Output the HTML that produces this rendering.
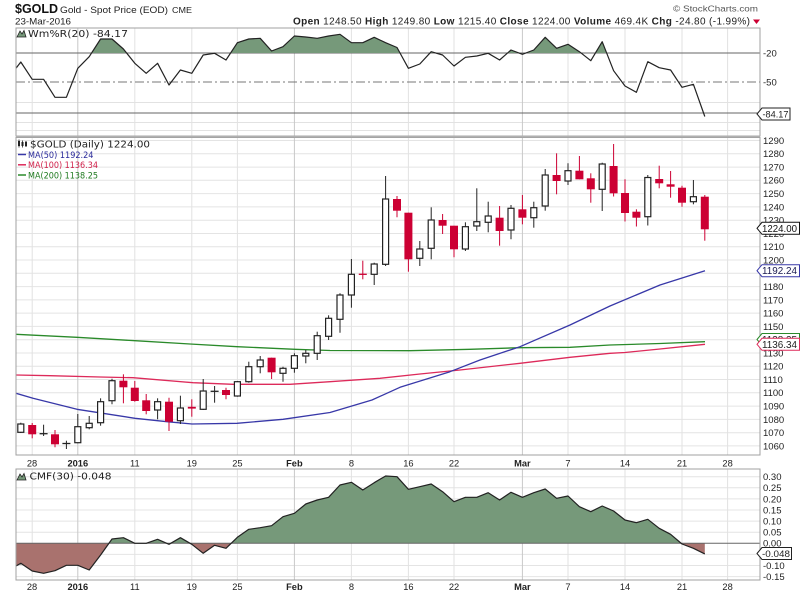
<!DOCTYPE html>
<html><head><meta charset="utf-8"><style>
html,body{margin:0;padding:0;background:#fff;width:800px;height:596px;overflow:hidden}
svg{display:block}
text{font-family:"Liberation Sans",Arial,sans-serif;fill:#222}
.ax{font-size:9.5px}
.lg{font-family:"DejaVu Sans","Liberation Sans",sans-serif}
</style></head><body>
<svg width="800" height="596" viewBox="0 0 800 596" xmlns="http://www.w3.org/2000/svg">
<defs>
<clipPath id="cTop"><rect x="16" y="28" width="744" height="108"/></clipPath>
<clipPath id="cAbove20"><rect x="16" y="28" width="744" height="25"/></clipPath>
<clipPath id="cMain"><rect x="16" y="137" width="744" height="318"/></clipPath>
<clipPath id="cPos"><rect x="16" y="469" width="744" height="74.3"/></clipPath>
<clipPath id="cNeg"><rect x="16" y="543.3" width="744" height="37"/></clipPath>
</defs>

<!-- HEADER -->
<text x="15" y="12.8" font-size="12.5" font-weight="bold" style="fill:#111">$GOLD</text>
<text x="60" y="12.8" font-size="9.6" textLength="108" lengthAdjust="spacingAndGlyphs">Gold - Spot Price (EOD)</text>
<text x="172" y="12.8" font-size="8" textLength="20" lengthAdjust="spacingAndGlyphs">CME</text>
<text x="15" y="24.5" font-size="9.5" textLength="56" lengthAdjust="spacingAndGlyphs">23-Mar-2016</text>
<text x="673" y="11.5" font-size="8.5" textLength="85" lengthAdjust="spacingAndGlyphs" style="fill:#555">© StockCharts.com</text>
<text x="293" y="24.5" font-size="10" textLength="457" lengthAdjust="spacing"><tspan font-weight="bold">Open</tspan> 1248.50 <tspan font-weight="bold">High</tspan> 1249.80 <tspan font-weight="bold">Low</tspan> 1215.40 <tspan font-weight="bold">Close</tspan> 1224.00 <tspan font-weight="bold">Volume</tspan> 469.4K <tspan font-weight="bold">Chg</tspan> -24.80 (-1.99%)</text>
<polygon points="753,19.5 760,19.5 756.5,24" fill="#cc0033"/>

<!-- ================= TOP PANEL (Wm%R) ================= -->
<g stroke="#e2e2e2" stroke-width="1">
<line x1="16" y1="102.5" x2="760" y2="102.5"/>
<line x1="16" y1="122.5" x2="760" y2="122.5"/>
<line x1="16" y1="130.5" x2="760" y2="130.5"/>
</g>
<g stroke="#e2e2e2" stroke-width="1">
<line x1="32.2" y1="28" x2="32.2" y2="136"/>
<line x1="134.8" y1="28" x2="134.8" y2="136"/>
<line x1="191.8" y1="28" x2="191.8" y2="136"/>
<line x1="237.4" y1="28" x2="237.4" y2="136"/>
<line x1="351.4" y1="28" x2="351.4" y2="136"/>
<line x1="408.4" y1="28" x2="408.4" y2="136"/>
<line x1="454" y1="28" x2="454" y2="136"/>
<line x1="568" y1="28" x2="568" y2="136"/>
<line x1="625" y1="28" x2="625" y2="136"/>
<line x1="682" y1="28" x2="682" y2="136"/>
<line x1="727.6" y1="28" x2="727.6" y2="136"/>
</g>
<g stroke="#c8c8c8" stroke-width="1">
<line x1="77.8" y1="28" x2="77.8" y2="136"/>
<line x1="294.4" y1="28" x2="294.4" y2="136"/>
<line x1="522.4" y1="28" x2="522.4" y2="136"/>
</g>
<line x1="16" y1="53" x2="760" y2="53" stroke="#666" stroke-width="1"/>
<line x1="16" y1="82" x2="760" y2="82" stroke="#777" stroke-width="1" stroke-dasharray="9,3,2,3"/>
<line x1="16" y1="113" x2="760" y2="113" stroke="#666" stroke-width="1"/>
<polygon clip-path="url(#cAbove20)" fill="#76997a" points="16,53 16,68.3 20.8,62 32.2,79.3 43.6,79.3 55,97.3 66.4,97.3 77.8,68.3 89.2,56.7 100.6,39 112,39 123.4,49 134.8,63.3 146.2,73.3 157.6,63.3 169,85 180.4,70 191.8,73.3 203.2,55 214.6,53.3 226,60 237.4,42.7 248.8,39 260.2,38.3 271.6,51 283,46.7 294.4,36 305.8,37 317.2,38.3 328.6,36 340,34.3 351.4,42.7 362.8,42.7 374.2,37.3 385.6,42.7 397,47.5 408.4,68.3 419.8,64 431.2,51.7 442.6,55 454,66 465.4,57.3 476.8,56 488.2,53.3 499.6,60 511,50 522.4,54.3 533.8,50 545.2,37.3 556.6,48.3 568,44.3 579.4,51.7 590.8,60.7 602.2,41.7 613.6,70.7 625,86 636.4,92.3 647.8,61.7 659.2,67.7 670.6,70 682,87.3 693.4,84.3 704.8,116.5 704.8,53"/>
<polyline clip-path="url(#cTop)" fill="none" stroke="#222" stroke-width="1.2" stroke-linejoin="round" points="16,68.3 20.8,62 32.2,79.3 43.6,79.3 55,97.3 66.4,97.3 77.8,68.3 89.2,56.7 100.6,39 112,39 123.4,49 134.8,63.3 146.2,73.3 157.6,63.3 169,85 180.4,70 191.8,73.3 203.2,55 214.6,53.3 226,60 237.4,42.7 248.8,39 260.2,38.3 271.6,51 283,46.7 294.4,36 305.8,37 317.2,38.3 328.6,36 340,34.3 351.4,42.7 362.8,42.7 374.2,37.3 385.6,42.7 397,47.5 408.4,68.3 419.8,64 431.2,51.7 442.6,55 454,66 465.4,57.3 476.8,56 488.2,53.3 499.6,60 511,50 522.4,54.3 533.8,50 545.2,37.3 556.6,48.3 568,44.3 579.4,51.7 590.8,60.7 602.2,41.7 613.6,70.7 625,86 636.4,92.3 647.8,61.7 659.2,67.7 670.6,70 682,87.3 693.4,84.3 704.8,116.5"/>
<rect x="16" y="28" width="744" height="108" fill="none" stroke="#a0a0a0" stroke-width="1"/>
<!-- legend -->
<polygon points="17,37 20,31 22,34 24,30.5 26,37" fill="#76997a" stroke="#222" stroke-width="0.8"/>
<text class="lg" x="28" y="37" font-size="10" textLength="100" lengthAdjust="spacingAndGlyphs">Wm%R(20) -84.17</text>
<!-- right axis -->
<text class="ax" x="763" y="56.3">-20</text>
<text class="ax" x="763" y="85.3">-50</text>
<text class="ax" x="763" y="116.3">-80</text>
<path d="M757,114 L762,108 L790,108 L790,120 L762,120 Z" fill="#fff" stroke="#222" stroke-width="1"/>
<text x="762.5" y="117.5" font-size="9.5" textLength="26" lengthAdjust="spacingAndGlyphs">-84.17</text>

<!-- ================= MAIN PANEL ================= -->
<g stroke="#e4e4e4" stroke-width="1">
<line x1="16" y1="140.5" x2="760" y2="140.5"/>
<line x1="16" y1="153.8" x2="760" y2="153.8"/>
<line x1="16" y1="167.1" x2="760" y2="167.1"/>
<line x1="16" y1="180.3" x2="760" y2="180.3"/>
<line x1="16" y1="193.6" x2="760" y2="193.6"/>
<line x1="16" y1="206.9" x2="760" y2="206.9"/>
<line x1="16" y1="220.2" x2="760" y2="220.2"/>
<line x1="16" y1="233.5" x2="760" y2="233.5"/>
<line x1="16" y1="246.7" x2="760" y2="246.7"/>
<line x1="16" y1="260" x2="760" y2="260"/>
<line x1="16" y1="273.3" x2="760" y2="273.3"/>
<line x1="16" y1="286.6" x2="760" y2="286.6"/>
<line x1="16" y1="299.9" x2="760" y2="299.9"/>
<line x1="16" y1="313.1" x2="760" y2="313.1"/>
<line x1="16" y1="326.4" x2="760" y2="326.4"/>
<line x1="16" y1="339.7" x2="760" y2="339.7"/>
<line x1="16" y1="353" x2="760" y2="353"/>
<line x1="16" y1="366.3" x2="760" y2="366.3"/>
<line x1="16" y1="379.5" x2="760" y2="379.5"/>
<line x1="16" y1="392.8" x2="760" y2="392.8"/>
<line x1="16" y1="406.1" x2="760" y2="406.1"/>
<line x1="16" y1="419.4" x2="760" y2="419.4"/>
<line x1="16" y1="432.7" x2="760" y2="432.7"/>
<line x1="16" y1="445.9" x2="760" y2="445.9"/>
</g>
<g stroke="#e2e2e2" stroke-width="1">
<line x1="32.2" y1="137" x2="32.2" y2="455"/>
<line x1="134.8" y1="137" x2="134.8" y2="455"/>
<line x1="191.8" y1="137" x2="191.8" y2="455"/>
<line x1="237.4" y1="137" x2="237.4" y2="455"/>
<line x1="351.4" y1="137" x2="351.4" y2="455"/>
<line x1="408.4" y1="137" x2="408.4" y2="455"/>
<line x1="454" y1="137" x2="454" y2="455"/>
<line x1="568" y1="137" x2="568" y2="455"/>
<line x1="625" y1="137" x2="625" y2="455"/>
<line x1="682" y1="137" x2="682" y2="455"/>
<line x1="727.6" y1="137" x2="727.6" y2="455"/>
</g>
<g stroke="#c8c8c8" stroke-width="1">
<line x1="77.8" y1="137" x2="77.8" y2="455"/>
<line x1="294.4" y1="137" x2="294.4" y2="455"/>
<line x1="522.4" y1="137" x2="522.4" y2="455"/>
</g>

<!-- moving averages -->
<g clip-path="url(#cMain)" fill="none" stroke-width="1.3" stroke-linejoin="round">
<polyline stroke="#2a8a2a" points="16,334.3 77,337.3 135,340.7 190,344 237,346.7 295,349.3 330,350.5 410,350.7 470,349.3 520,347.7 570,347.3 610,345 660,343.5 705,341.7"/>
<polyline stroke="#dd2a5a" points="16,375 50,375.7 100,377 133,377.7 193,382.7 233,384.3 290,384.3 330,381.7 380,378.3 420,374 460,370 520,363.3 570,357.3 610,353.3 625,352.5 660,349 705,344.3"/>
<polyline stroke="#3838a8" points="16,393.3 33,398.3 77,409.3 135,418.3 167,421.7 192,424 237,423.3 283,419.3 330,412.5 372,400 400,387.3 450,371.7 480,360 520,346.7 570,325 610,306 660,285 705,270.7"/>
</g>

<!-- candles -->
<g stroke-width="1">
<!-- 0 -->
<line x1="20.8" y1="422.7" x2="20.8" y2="433" stroke="#222"/><rect x="17.8" y="424" width="6" height="8.3" fill="#fff" stroke="#222" stroke-width="1.2"/>
<!-- 1 -->
<line x1="32.2" y1="423" x2="32.2" y2="438.3" stroke="#cc0033"/><rect x="28.2" y="425" width="8" height="9.3" fill="#cc0033"/>
<!-- 2 -->
<line x1="43.6" y1="424.7" x2="43.6" y2="436" stroke="#222"/><line x1="39.6" y1="433.7" x2="47.6" y2="433.7" stroke="#222" stroke-width="1.3"/>
<!-- 3 -->
<line x1="55" y1="430" x2="55" y2="447.3" stroke="#cc0033"/><rect x="51" y="434.3" width="8" height="10" fill="#cc0033"/>
<!-- 4 -->
<line x1="66.4" y1="440.7" x2="66.4" y2="449" stroke="#222"/><line x1="62.4" y1="443.5" x2="70.4" y2="443.5" stroke="#222" stroke-width="1.3"/>
<!-- 5 -->
<line x1="77.8" y1="414" x2="77.8" y2="443.3" stroke="#222"/><rect x="74.8" y="426.7" width="6" height="16" fill="#fff" stroke="#222" stroke-width="1.2"/>
<!-- 6 -->
<line x1="89.2" y1="416" x2="89.2" y2="429.3" stroke="#222"/><rect x="86.2" y="423.3" width="6" height="4.4" fill="#fff" stroke="#222" stroke-width="1.2"/>
<!-- 7 -->
<line x1="100.6" y1="398.3" x2="100.6" y2="425.7" stroke="#222"/><rect x="97.6" y="401.7" width="6" height="21" fill="#fff" stroke="#222" stroke-width="1.2"/>
<!-- 8 -->
<line x1="112" y1="378.7" x2="112" y2="404.3" stroke="#222"/><rect x="109" y="380.7" width="6" height="20" fill="#fff" stroke="#222" stroke-width="1.2"/>
<!-- 9 -->
<line x1="123.4" y1="374.3" x2="123.4" y2="403.3" stroke="#cc0033"/><rect x="119.4" y="380.7" width="8" height="6.6" fill="#cc0033"/>
<!-- 10 -->
<line x1="134.8" y1="381" x2="134.8" y2="401.7" stroke="#cc0033"/><rect x="130.8" y="387.7" width="8" height="13.3" fill="#cc0033"/>
<!-- 11 -->
<line x1="146.2" y1="394" x2="146.2" y2="414.3" stroke="#cc0033"/><rect x="142.2" y="400.3" width="8" height="10.7" fill="#cc0033"/>
<!-- 12 -->
<line x1="157.6" y1="398.3" x2="157.6" y2="419.3" stroke="#222"/><rect x="154.6" y="401.7" width="6" height="8.3" fill="#fff" stroke="#222" stroke-width="1.2"/>
<!-- 13 -->
<line x1="169" y1="397.7" x2="169" y2="431" stroke="#cc0033"/><rect x="165" y="401.7" width="8" height="20" fill="#cc0033"/>
<!-- 14 -->
<line x1="180.4" y1="395.7" x2="180.4" y2="424" stroke="#222"/><rect x="177.4" y="408" width="6" height="12.7" fill="#fff" stroke="#222" stroke-width="1.2"/>
<!-- 15 -->
<line x1="191.8" y1="399.3" x2="191.8" y2="416.7" stroke="#cc0033"/><rect x="187.8" y="406.8" width="8" height="1.8" fill="#cc0033"/>
<!-- 16 -->
<line x1="203.2" y1="379" x2="203.2" y2="410" stroke="#222"/><rect x="200.2" y="391" width="6" height="18.3" fill="#fff" stroke="#222" stroke-width="1.2"/>
<!-- 17 -->
<line x1="214.6" y1="386" x2="214.6" y2="402.7" stroke="#222"/><line x1="210.6" y1="391.3" x2="218.6" y2="391.3" stroke="#222" stroke-width="1.3"/>
<!-- 18 -->
<line x1="226" y1="387.7" x2="226" y2="399.3" stroke="#cc0033"/><rect x="222" y="390" width="8" height="5" fill="#cc0033"/>
<!-- 19 -->
<line x1="237.4" y1="381" x2="237.4" y2="396.7" stroke="#222"/><rect x="234.4" y="381.7" width="6" height="14.3" fill="#fff" stroke="#222" stroke-width="1.2"/>
<!-- 20 -->
<line x1="248.8" y1="361.7" x2="248.8" y2="382.7" stroke="#222"/><rect x="245.8" y="366.7" width="6" height="15" fill="#fff" stroke="#222" stroke-width="1.2"/>
<!-- 21 -->
<line x1="260.2" y1="356" x2="260.2" y2="373.3" stroke="#222"/><rect x="257.2" y="360" width="6" height="6.7" fill="#fff" stroke="#222" stroke-width="1.2"/>
<!-- 22 -->
<line x1="271.6" y1="357.7" x2="271.6" y2="379" stroke="#cc0033"/><rect x="267.6" y="357.7" width="8" height="14.6" fill="#cc0033"/>
<!-- 23 -->
<line x1="283" y1="366.7" x2="283" y2="381.7" stroke="#222"/><rect x="280" y="368.3" width="6" height="5" fill="#fff" stroke="#222" stroke-width="1.2"/>
<!-- 24 -->
<line x1="294.4" y1="353.3" x2="294.4" y2="372.7" stroke="#222"/><rect x="291.4" y="355.7" width="6" height="12.6" fill="#fff" stroke="#222" stroke-width="1.2"/>
<!-- 25 -->
<line x1="305.8" y1="350" x2="305.8" y2="363.3" stroke="#222"/><rect x="302.8" y="353.3" width="6" height="2.7" fill="#fff" stroke="#222" stroke-width="1.2"/>
<!-- 26 -->
<line x1="317.2" y1="331.7" x2="317.2" y2="360" stroke="#222"/><rect x="314.2" y="335.7" width="6" height="17.6" fill="#fff" stroke="#222" stroke-width="1.2"/>
<!-- 27 -->
<line x1="328.6" y1="315.3" x2="328.6" y2="340" stroke="#222"/><rect x="325.6" y="318.3" width="6" height="18" fill="#fff" stroke="#222" stroke-width="1.2"/>
<!-- 28 -->
<line x1="340" y1="293.3" x2="340" y2="332.7" stroke="#222"/><rect x="337" y="295" width="6" height="24.3" fill="#fff" stroke="#222" stroke-width="1.2"/>
<!-- 29 -->
<line x1="351.4" y1="259" x2="351.4" y2="307.7" stroke="#222"/><rect x="348.4" y="274.3" width="6" height="20.7" fill="#fff" stroke="#222" stroke-width="1.2"/>
<!-- 30 -->
<line x1="362.8" y1="260.7" x2="362.8" y2="279.3" stroke="#cc0033"/><line x1="358.8" y1="274.3" x2="366.8" y2="274.3" stroke="#cc0033" stroke-width="1.3"/>
<!-- 31 -->
<line x1="374.2" y1="262.7" x2="374.2" y2="285" stroke="#222"/><rect x="371.2" y="264" width="6" height="10.3" fill="#fff" stroke="#222" stroke-width="1.2"/>
<!-- 32 -->
<line x1="385.6" y1="176" x2="385.6" y2="266" stroke="#222"/><rect x="382.6" y="199" width="6" height="65.3" fill="#fff" stroke="#222" stroke-width="1.2"/>
<!-- 33 -->
<line x1="397" y1="196" x2="397" y2="217.3" stroke="#cc0033"/><rect x="393" y="199" width="8" height="11.7" fill="#cc0033"/>
<!-- 34 -->
<line x1="408.4" y1="212.7" x2="408.4" y2="271.7" stroke="#cc0033"/><rect x="404.4" y="212.7" width="8" height="46.6" fill="#cc0033"/>
<!-- 35 -->
<line x1="419.8" y1="241" x2="419.8" y2="266" stroke="#222"/><rect x="416.8" y="249" width="6" height="9.3" fill="#fff" stroke="#222" stroke-width="1.2"/>
<!-- 36 -->
<line x1="431.2" y1="207.3" x2="431.2" y2="259.3" stroke="#222"/><rect x="428.2" y="220" width="6" height="28.3" fill="#fff" stroke="#222" stroke-width="1.2"/>
<!-- 37 -->
<line x1="442.6" y1="214" x2="442.6" y2="234" stroke="#cc0033"/><rect x="438.6" y="220" width="8" height="5.7" fill="#cc0033"/>
<!-- 38 -->
<line x1="454" y1="225.7" x2="454" y2="257.3" stroke="#cc0033"/><rect x="450" y="225.7" width="8" height="23.6" fill="#cc0033"/>
<!-- 39 -->
<line x1="465.4" y1="222.3" x2="465.4" y2="251" stroke="#222"/><rect x="462.4" y="226.7" width="6" height="22.3" fill="#fff" stroke="#222" stroke-width="1.2"/>
<!-- 40 -->
<line x1="476.8" y1="188.3" x2="476.8" y2="231" stroke="#222"/><rect x="473.8" y="221.7" width="6" height="4.3" fill="#fff" stroke="#222" stroke-width="1.2"/>
<!-- 41 -->
<line x1="488.2" y1="201.7" x2="488.2" y2="232.3" stroke="#222"/><rect x="485.2" y="216" width="6" height="6.3" fill="#fff" stroke="#222" stroke-width="1.2"/>
<!-- 42 -->
<line x1="499.6" y1="206" x2="499.6" y2="245.7" stroke="#cc0033"/><rect x="495.6" y="217.7" width="8" height="13.3" fill="#cc0033"/>
<!-- 43 -->
<line x1="511" y1="205" x2="511" y2="239.3" stroke="#222"/><rect x="508" y="208.3" width="6" height="21.7" fill="#fff" stroke="#222" stroke-width="1.2"/>
<!-- 44 -->
<line x1="522.4" y1="195" x2="522.4" y2="224.3" stroke="#cc0033"/><rect x="518.4" y="209.3" width="8" height="8.4" fill="#cc0033"/>
<!-- 45 -->
<line x1="533.8" y1="201.7" x2="533.8" y2="227.7" stroke="#222"/><rect x="530.8" y="207.7" width="6" height="10" fill="#fff" stroke="#222" stroke-width="1.2"/>
<!-- 46 -->
<line x1="545.2" y1="169" x2="545.2" y2="210.7" stroke="#222"/><rect x="542.2" y="175" width="6" height="31" fill="#fff" stroke="#222" stroke-width="1.2"/>
<!-- 47 -->
<line x1="556.6" y1="153.3" x2="556.6" y2="194.3" stroke="#cc0033"/><rect x="552.6" y="175" width="8" height="6" fill="#cc0033"/>
<!-- 48 -->
<line x1="568" y1="163.3" x2="568" y2="185" stroke="#222"/><rect x="565" y="170.7" width="6" height="10.3" fill="#fff" stroke="#222" stroke-width="1.2"/>
<!-- 49 -->
<line x1="579.4" y1="156" x2="579.4" y2="179.3" stroke="#cc0033"/><rect x="575.4" y="170.7" width="8" height="8.6" fill="#cc0033"/>
<!-- 50 -->
<line x1="590.8" y1="173.3" x2="590.8" y2="202.7" stroke="#cc0033"/><rect x="586.8" y="178.3" width="8" height="11" fill="#cc0033"/>
<!-- 51 -->
<line x1="602.2" y1="162.7" x2="602.2" y2="211" stroke="#222"/><rect x="599.2" y="164" width="6" height="25.3" fill="#fff" stroke="#222" stroke-width="1.2"/>
<!-- 52 -->
<line x1="613.6" y1="144" x2="613.6" y2="196.5" stroke="#cc0033"/><rect x="609.6" y="166" width="8" height="27.3" fill="#cc0033"/>
<!-- 53 -->
<line x1="625" y1="179.3" x2="625" y2="221.5" stroke="#cc0033"/><rect x="621" y="193" width="8" height="20" fill="#cc0033"/>
<!-- 54 -->
<line x1="636.4" y1="209.3" x2="636.4" y2="226.5" stroke="#cc0033"/><rect x="632.4" y="211.7" width="8" height="6" fill="#cc0033"/>
<!-- 55 -->
<line x1="647.8" y1="175" x2="647.8" y2="225.5" stroke="#222"/><rect x="644.8" y="177.5" width="6" height="39.2" fill="#fff" stroke="#222" stroke-width="1.2"/>
<!-- 56 -->
<line x1="659.2" y1="165.7" x2="659.2" y2="188.3" stroke="#cc0033"/><rect x="655.2" y="179" width="8" height="4.3" fill="#cc0033"/>
<!-- 57 -->
<line x1="670.6" y1="171" x2="670.6" y2="197.7" stroke="#cc0033"/><rect x="666.6" y="184.3" width="8" height="2.4" fill="#cc0033"/>
<!-- 58 -->
<line x1="682" y1="185.7" x2="682" y2="206.7" stroke="#cc0033"/><rect x="678" y="187.7" width="8" height="15" fill="#cc0033"/>
<!-- 59 -->
<line x1="693.4" y1="180" x2="693.4" y2="204.3" stroke="#222"/><rect x="690.4" y="196.7" width="6" height="5" fill="#fff" stroke="#222" stroke-width="1.2"/>
<!-- 60 -->
<line x1="704.8" y1="195" x2="704.8" y2="240.7" stroke="#cc0033"/><rect x="700.8" y="196.7" width="8" height="32.6" fill="#cc0033"/>
</g>

<rect x="16" y="137.5" width="744" height="317.5" fill="none" stroke="#a0a0a0" stroke-width="1"/>
<line x1="16" y1="136.5" x2="760" y2="136.5" stroke="#b0b0b0" stroke-width="1.5"/>

<!-- main legend -->
<g>
<rect x="18" y="141" width="2" height="5" fill="#222"/><line x1="19" y1="139.5" x2="19" y2="147.5" stroke="#222" stroke-width="0.8"/>
<rect x="21.5" y="142" width="2" height="4" fill="#222"/><line x1="22.5" y1="140.5" x2="22.5" y2="147.5" stroke="#222" stroke-width="0.8"/>
<rect x="25" y="141.5" width="2" height="5" fill="#222"/>
</g>
<text class="lg" x="30" y="147.5" font-size="10" textLength="120" lengthAdjust="spacingAndGlyphs">$GOLD (Daily) 1224.00</text>
<line x1="18" y1="154.5" x2="26" y2="154.5" stroke="#3838a8" stroke-width="1.5"/>
<text class="lg" x="28" y="157.8" font-size="8.6" textLength="65.5" lengthAdjust="spacingAndGlyphs" style="fill:#2a2a9a">MA(50) 1192.24</text>
<line x1="18" y1="164.8" x2="26" y2="164.8" stroke="#dd2a5a" stroke-width="1.5"/>
<text class="lg" x="28" y="168.1" font-size="8.6" textLength="70" lengthAdjust="spacingAndGlyphs" style="fill:#d0204a">MA(100) 1136.34</text>
<line x1="18" y1="175" x2="26" y2="175" stroke="#2a8a2a" stroke-width="1.5"/>
<text class="lg" x="28" y="178.3" font-size="8.6" textLength="70" lengthAdjust="spacingAndGlyphs" style="fill:#1f7a1f">MA(200) 1138.25</text>

<!-- main right axis -->
<g class="ax">
<text class="ax" x="763" y="143.9">1290</text>
<text class="ax" x="763" y="157.2">1280</text>
<text class="ax" x="763" y="170.5">1270</text>
<text class="ax" x="763" y="183.7">1260</text>
<text class="ax" x="763" y="197">1250</text>
<text class="ax" x="763" y="210.3">1240</text>
<text class="ax" x="763" y="223.6">1230</text>
<text class="ax" x="763" y="236.9">1220</text>
<text class="ax" x="763" y="250.1">1210</text>
<text class="ax" x="763" y="263.4">1200</text>
<text class="ax" x="763" y="276.7">1190</text>
<text class="ax" x="763" y="290">1180</text>
<text class="ax" x="763" y="303.3">1170</text>
<text class="ax" x="763" y="316.5">1160</text>
<text class="ax" x="763" y="329.8">1150</text>
<text class="ax" x="763" y="343.1">1140</text>
<text class="ax" x="763" y="356.4">1130</text>
<text class="ax" x="763" y="369.7">1120</text>
<text class="ax" x="763" y="382.9">1110</text>
<text class="ax" x="763" y="396.2">1100</text>
<text class="ax" x="763" y="409.5">1090</text>
<text class="ax" x="763" y="422.8">1080</text>
<text class="ax" x="763" y="436.1">1070</text>
<text class="ax" x="763" y="449.3">1060</text>
</g>
<!-- value boxes -->
<path d="M757,228.3 L762,222.3 L799.5,222.3 L799.5,234.3 L762,234.3 Z" fill="#fff" stroke="#111" stroke-width="1"/>
<text x="762" y="231.8" font-size="9.7" textLength="35" lengthAdjust="spacingAndGlyphs" style="fill:#111">1224.00</text>
<path d="M757,270.7 L762,264.7 L799.5,264.7 L799.5,276.7 L762,276.7 Z" fill="#fff" stroke="#3838a8" stroke-width="1"/>
<text x="762" y="274.2" font-size="9.7" textLength="35" lengthAdjust="spacingAndGlyphs" style="fill:#1a1a50">1192.24</text>
<path d="M757,339.5 L762,333.5 L799.5,333.5 L799.5,345.5 L762,345.5 Z" fill="#fff" stroke="#2a8a2a" stroke-width="1"/>
<text x="762" y="343" font-size="9.7" textLength="35" lengthAdjust="spacingAndGlyphs">1138.25</text>
<path d="M757,344.3 L762,338.3 L799.5,338.3 L799.5,350.3 L762,350.3 Z" fill="#fff" stroke="#dd2a5a" stroke-width="1"/>
<text x="762" y="347.8" font-size="9.7" textLength="35" lengthAdjust="spacingAndGlyphs">1136.34</text>

<!-- x labels (main) -->
<g font-size="9.3" text-anchor="middle">
<text x="32" y="466.5">28</text>
<text x="77.8" y="466.5" font-weight="bold">2016</text>
<text x="134.8" y="466.5">11</text>
<text x="191.8" y="466.5">19</text>
<text x="237.4" y="466.5">25</text>
<text x="294.4" y="466.5" font-weight="bold">Feb</text>
<text x="351.4" y="466.5">8</text>
<text x="408.4" y="466.5">16</text>
<text x="454" y="466.5">22</text>
<text x="522.4" y="466.5" font-weight="bold">Mar</text>
<text x="568" y="466.5">7</text>
<text x="625" y="466.5">14</text>
<text x="682" y="466.5">21</text>
<text x="727.6" y="466.5">28</text>
</g>

<!-- ================= BOTTOM PANEL (CMF) ================= -->
<g stroke="#e4e4e4" stroke-width="1">
<line x1="16" y1="476.7" x2="760" y2="476.7"/>
<line x1="16" y1="487.8" x2="760" y2="487.8"/>
<line x1="16" y1="498.9" x2="760" y2="498.9"/>
<line x1="16" y1="510" x2="760" y2="510"/>
<line x1="16" y1="521.1" x2="760" y2="521.1"/>
<line x1="16" y1="532.2" x2="760" y2="532.2"/>
<line x1="16" y1="554.4" x2="760" y2="554.4"/>
<line x1="16" y1="565.5" x2="760" y2="565.5"/>
<line x1="16" y1="576.6" x2="760" y2="576.6"/>
</g>
<g stroke="#e2e2e2" stroke-width="1">
<line x1="32.2" y1="469" x2="32.2" y2="580"/>
<line x1="134.8" y1="469" x2="134.8" y2="580"/>
<line x1="191.8" y1="469" x2="191.8" y2="580"/>
<line x1="237.4" y1="469" x2="237.4" y2="580"/>
<line x1="351.4" y1="469" x2="351.4" y2="580"/>
<line x1="408.4" y1="469" x2="408.4" y2="580"/>
<line x1="454" y1="469" x2="454" y2="580"/>
<line x1="568" y1="469" x2="568" y2="580"/>
<line x1="625" y1="469" x2="625" y2="580"/>
<line x1="682" y1="469" x2="682" y2="580"/>
<line x1="727.6" y1="469" x2="727.6" y2="580"/>
</g>
<g stroke="#c8c8c8" stroke-width="1">
<line x1="77.8" y1="469" x2="77.8" y2="580"/>
<line x1="294.4" y1="469" x2="294.4" y2="580"/>
<line x1="522.4" y1="469" x2="522.4" y2="580"/>
</g>
<polygon clip-path="url(#cPos)" fill="#76997a" points="16,543.3 16,566 20.8,563.3 32.2,571 43.6,573.3 55,570.7 66.4,565.3 77.8,565.3 89.2,570 100.6,555 112,539 123.4,537.7 134.8,543.3 146.2,543.3 157.6,539.3 169,544.3 180.4,537.7 191.8,544.3 203.2,553.3 214.6,545.3 226,548.3 237.4,537.3 248.8,529.3 260.2,527.7 271.6,525.7 283,516.7 294.4,513.3 305.8,504 317.2,500 328.6,497.3 340,485 351.4,482.3 362.8,490 374.2,482.7 385.6,476 397,476.7 408.4,489.3 419.8,486.7 431.2,484 442.6,491.7 454,501.7 465.4,497.3 476.8,497.3 488.2,492.7 499.6,500 511,492.3 522.4,497.3 533.8,492.7 545.2,489 556.6,498.3 568,496 579.4,506.7 590.8,511.7 602.2,506 613.6,511 625,520 636.4,522.7 647.8,519.3 659.2,528.3 670.6,534.3 682,544 693.4,548.3 704.8,553.9 704.8,543.3"/>
<polygon clip-path="url(#cNeg)" fill="#a9726e" points="16,543.3 16,566 20.8,563.3 32.2,571 43.6,573.3 55,570.7 66.4,565.3 77.8,565.3 89.2,570 100.6,555 112,539 123.4,537.7 134.8,543.3 146.2,543.3 157.6,539.3 169,544.3 180.4,537.7 191.8,544.3 203.2,553.3 214.6,545.3 226,548.3 237.4,537.3 248.8,529.3 260.2,527.7 271.6,525.7 283,516.7 294.4,513.3 305.8,504 317.2,500 328.6,497.3 340,485 351.4,482.3 362.8,490 374.2,482.7 385.6,476 397,476.7 408.4,489.3 419.8,486.7 431.2,484 442.6,491.7 454,501.7 465.4,497.3 476.8,497.3 488.2,492.7 499.6,500 511,492.3 522.4,497.3 533.8,492.7 545.2,489 556.6,498.3 568,496 579.4,506.7 590.8,511.7 602.2,506 613.6,511 625,520 636.4,522.7 647.8,519.3 659.2,528.3 670.6,534.3 682,544 693.4,548.3 704.8,553.9 704.8,543.3"/>
<line x1="16" y1="543.3" x2="760" y2="543.3" stroke="#666" stroke-width="1"/>
<polyline fill="none" stroke="#222" stroke-width="1.2" stroke-linejoin="round" points="16,566 20.8,563.3 32.2,571 43.6,573.3 55,570.7 66.4,565.3 77.8,565.3 89.2,570 100.6,555 112,539 123.4,537.7 134.8,543.3 146.2,543.3 157.6,539.3 169,544.3 180.4,537.7 191.8,544.3 203.2,553.3 214.6,545.3 226,548.3 237.4,537.3 248.8,529.3 260.2,527.7 271.6,525.7 283,516.7 294.4,513.3 305.8,504 317.2,500 328.6,497.3 340,485 351.4,482.3 362.8,490 374.2,482.7 385.6,476 397,476.7 408.4,489.3 419.8,486.7 431.2,484 442.6,491.7 454,501.7 465.4,497.3 476.8,497.3 488.2,492.7 499.6,500 511,492.3 522.4,497.3 533.8,492.7 545.2,489 556.6,498.3 568,496 579.4,506.7 590.8,511.7 602.2,506 613.6,511 625,520 636.4,522.7 647.8,519.3 659.2,528.3 670.6,534.3 682,544 693.4,548.3 704.8,553.9"/>
<rect x="16" y="469" width="744" height="111" fill="none" stroke="#a0a0a0" stroke-width="1"/>
<!-- legend -->
<polygon points="17,480 20,474 22,477 24,473.5 26,480" fill="#76997a" stroke="#222" stroke-width="0.8"/>
<text class="lg" x="29.5" y="479.5" font-size="9.6" textLength="82" lengthAdjust="spacingAndGlyphs">CMF(30) -0.048</text>
<!-- right axis -->
<text class="ax" x="763" y="480.1">0.30</text>
<text class="ax" x="763" y="491.2">0.25</text>
<text class="ax" x="763" y="502.3">0.20</text>
<text class="ax" x="763" y="513.4">0.15</text>
<text class="ax" x="763" y="524.5">0.10</text>
<text class="ax" x="763" y="535.6">0.05</text>
<text class="ax" x="763" y="546.7">0.00</text>
<text class="ax" x="763" y="568.9">-0.10</text>
<text class="ax" x="763" y="580">-0.15</text>
<path d="M757,553.5 L762,547.5 L791.5,547.5 L791.5,559.5 L762,559.5 Z" fill="#fff" stroke="#222" stroke-width="1"/>
<text x="762" y="557" font-size="9.5" textLength="28" lengthAdjust="spacingAndGlyphs">-0.048</text>

<!-- x labels (bottom) -->
<g font-size="9.3" text-anchor="middle">
<text x="32" y="590">28</text>
<text x="77.8" y="590" font-weight="bold">2016</text>
<text x="134.8" y="590">11</text>
<text x="191.8" y="590">19</text>
<text x="237.4" y="590">25</text>
<text x="294.4" y="590" font-weight="bold">Feb</text>
<text x="351.4" y="590">8</text>
<text x="408.4" y="590">16</text>
<text x="454" y="590">22</text>
<text x="522.4" y="590" font-weight="bold">Mar</text>
<text x="568" y="590">7</text>
<text x="625" y="590">14</text>
<text x="682" y="590">21</text>
<text x="727.6" y="590">28</text>
</g>
</svg>
</body></html>
